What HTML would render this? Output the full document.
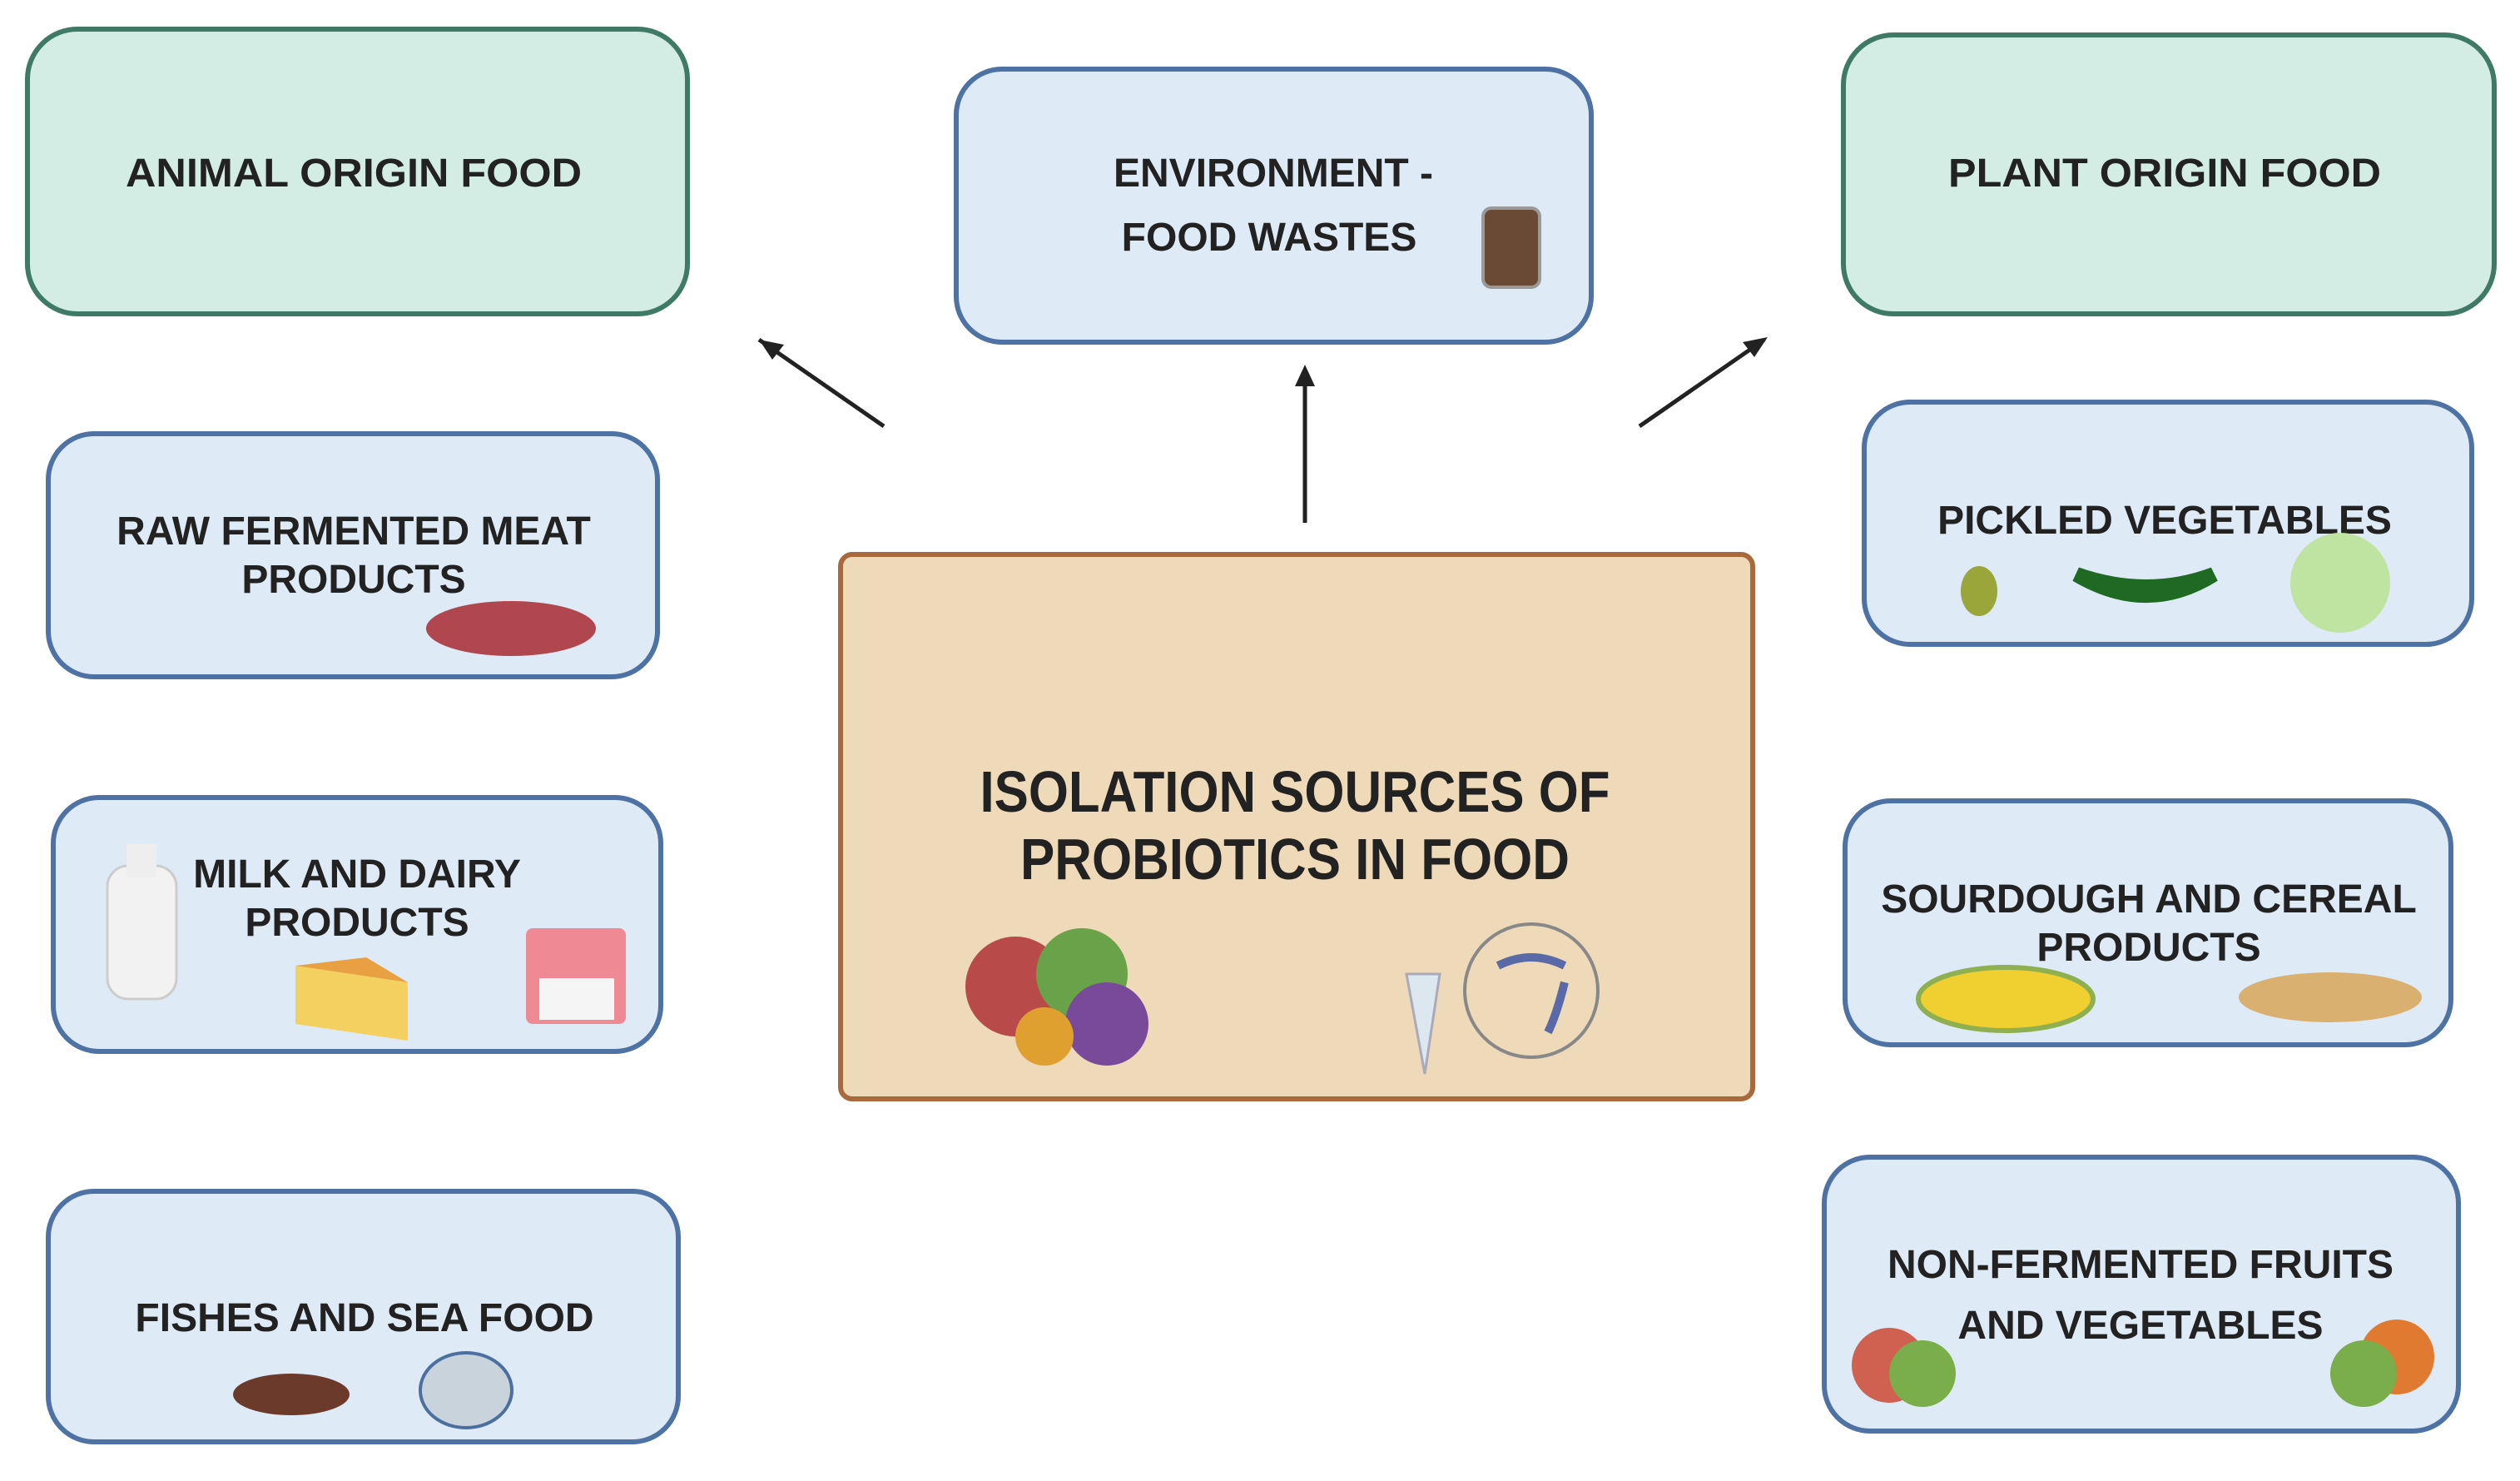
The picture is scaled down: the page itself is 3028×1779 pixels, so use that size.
<!DOCTYPE html>
<html><head><meta charset="utf-8"><style>
html,body{margin:0;padding:0;background:#fff;}
svg{display:block;}
text{font-family:"Liberation Sans",sans-serif;font-weight:bold;fill:#222;text-anchor:middle;}
.l{font-size:48px;}
</style></head><body>
<svg width="3028" height="1779" viewBox="0 0 3028 1779" xmlns="http://www.w3.org/2000/svg">
<rect x="33" y="35" width="793" height="342" rx="60" fill="#d3ece4" stroke="#3f7a66" stroke-width="6"/>
<rect x="2215" y="42" width="782" height="335" rx="60" fill="#d3ece4" stroke="#3f7a66" stroke-width="6"/>
<rect x="1149" y="83" width="763" height="328" rx="55" fill="#deebf7" stroke="#4d72a3" stroke-width="6"/>
<rect x="58" y="521" width="732" height="292" rx="55" fill="#deebf7" stroke="#4d72a3" stroke-width="6"/>
<rect x="64" y="958" width="730" height="305" rx="55" fill="#deebf7" stroke="#4d72a3" stroke-width="6"/>
<rect x="58" y="1431" width="757" height="301" rx="55" fill="#deebf7" stroke="#4d72a3" stroke-width="6"/>
<rect x="2240" y="483" width="730" height="291" rx="55" fill="#deebf7" stroke="#4d72a3" stroke-width="6"/>
<rect x="2217" y="962" width="728" height="293" rx="55" fill="#deebf7" stroke="#4d72a3" stroke-width="6"/>
<rect x="2192" y="1390" width="762" height="329" rx="55" fill="#deebf7" stroke="#4d72a3" stroke-width="6"/>
<rect x="1010" y="666" width="1096" height="654" rx="14" fill="#eed9b8" stroke="#a86a3c" stroke-width="6"/>
<line x1="1062" y1="512" x2="912" y2="408" stroke="#222" stroke-width="5"/>
<path d="M912,408 l30,6 l-14,18 z" fill="#222"/>
<line x1="1568" y1="628" x2="1568" y2="445" stroke="#222" stroke-width="5"/>
<path d="M1568,438 l-12,26 l24,0 z" fill="#222"/>
<line x1="1970" y1="512" x2="2120" y2="408" stroke="#222" stroke-width="5"/>
<path d="M2124,405 l-30,6 l14,18 z" fill="#222"/>
<text class="l" x="425" y="224" textLength="548" lengthAdjust="spacingAndGlyphs">ANIMAL ORIGIN FOOD</text>
<text class="l" x="2601" y="224" textLength="520" lengthAdjust="spacingAndGlyphs">PLANT  ORIGIN FOOD</text>
<text class="l" x="1530" y="224">ENVIRONMENT  -</text>
<text class="l" x="1525" y="301">FOOD WASTES</text>
<text class="l" x="425" y="654">RAW FERMENTED MEAT</text>
<text class="l" x="425" y="712">PRODUCTS</text>
<text class="l" x="429" y="1066">MILK AND DAIRY</text>
<text class="l" x="429" y="1124">PRODUCTS</text>
<text class="l" x="438" y="1599">FISHES AND SEA FOOD</text>
<text class="l" x="2601" y="641">PICKLED VEGETABLES</text>
<text class="l" x="2582" y="1096">SOURDOUGH AND CEREAL</text>
<text class="l" x="2582" y="1154">PRODUCTS</text>
<text class="l" x="2572" y="1535">NON-FERMENTED FRUITS</text>
<text class="l" x="2572" y="1608">AND VEGETABLES</text>
<text x="1556" y="975" style="font-size:70px" textLength="757" lengthAdjust="spacingAndGlyphs">ISOLATION SOURCES OF</text>
<text x="1556" y="1056" style="font-size:70px" textLength="660" lengthAdjust="spacingAndGlyphs">PROBIOTICS IN FOOD</text>
<rect x="1782" y="250" width="68" height="95" rx="10" fill="#6b4a35" stroke="#999" stroke-width="4"/>
<ellipse cx="614" cy="755" rx="102" ry="33" fill="#b0474f"/>
<rect x="129" y="1040" width="83" height="160" rx="25" fill="#f2f2f2" stroke="#ccc" stroke-width="3"/>
<rect x="152" y="1014" width="36" height="40" fill="#eee"/>
<path d="M355,1160 L490,1180 L490,1250 L355,1230 z" fill="#f4d060"/>
<path d="M355,1160 L440,1150 L490,1180 z" fill="#e8a040"/>
<rect x="632" y="1115" width="120" height="115" rx="8" fill="#ef8a95"/>
<rect x="648" y="1175" width="90" height="50" fill="#f5f5f5"/>
<ellipse cx="350" cy="1675" rx="70" ry="25" fill="#6b3a2a"/>
<ellipse cx="560" cy="1670" rx="55" ry="45" fill="#c9d3dc" stroke="#4a6fa0" stroke-width="4"/>
<ellipse cx="2378" cy="710" rx="22" ry="30" fill="#9aa53a"/>
<path d="M2495,690 Q2580,740 2660,690 Q2580,720 2495,690 z" fill="#1f6a22" stroke="#1f6a22" stroke-width="18"/>
<circle cx="2812" cy="700" r="60" fill="#bfe3a0"/>
<ellipse cx="2410" cy="1200" rx="105" ry="38" fill="#f0d030" stroke="#8fb050" stroke-width="6"/>
<ellipse cx="2800" cy="1198" rx="110" ry="30" fill="#d9b070"/>
<circle cx="2270" cy="1640" r="45" fill="#d06050"/>
<circle cx="2310" cy="1650" r="40" fill="#7aae4a"/>
<circle cx="2880" cy="1630" r="45" fill="#e07a30"/>
<circle cx="2840" cy="1650" r="40" fill="#7aae4a"/>
<circle cx="1220" cy="1185" r="60" fill="#b84a4a"/>
<circle cx="1300" cy="1170" r="55" fill="#6aa24a"/>
<circle cx="1330" cy="1230" r="50" fill="#7a4a9a"/>
<circle cx="1255" cy="1245" r="35" fill="#e0a030"/>
<circle cx="1840" cy="1190" r="80" fill="none" stroke="#888" stroke-width="4"/>
<path d="M1800,1160 Q1840,1140 1880,1160 M1880,1180 Q1870,1220 1860,1240" stroke="#5a6aa8" stroke-width="10" fill="none"/>
<path d="M1690,1170 L1730,1170 L1712,1290 z" fill="#dde7f0" stroke="#aab" stroke-width="3"/>
</svg>
</body></html>
